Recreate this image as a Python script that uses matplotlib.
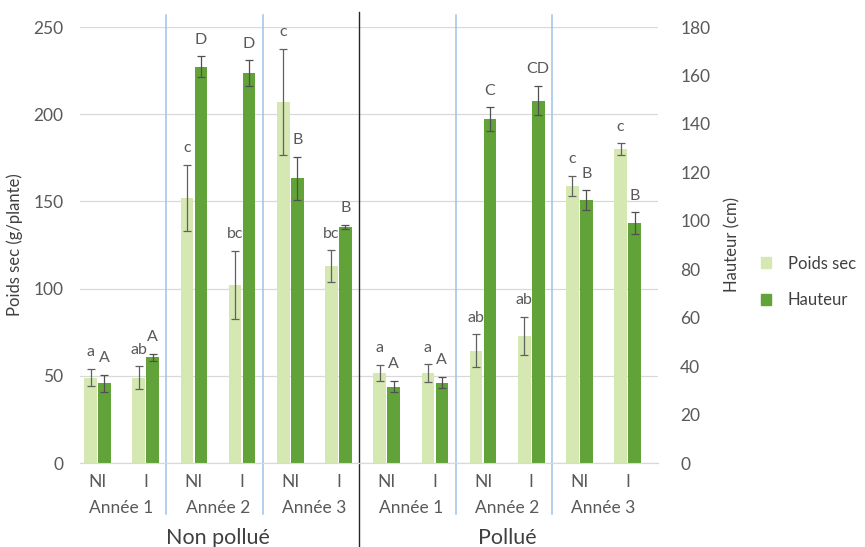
import numpy as np
import matplotlib
matplotlib.use('Agg')
import matplotlib.pyplot as plt
from matplotlib.patches import Patch
import matplotlib.transforms as mtransforms

plt.rcParams['font.family'] = ['Lato', 'DejaVu Sans']

# data
conditions = ['NI', 'I'] * 6
years = ['Année 1', 'Année 2', 'Année 3'] * 2
pollution = ['Non pollué', 'Pollué']

poids = [49, 49, 152, 102, 207, 113, 51.5, 51.5, 64.5, 73, 159, 180]
poids_err = [5, 6.5, 19, 19.5, 30.5, 9, 4.6, 5, 9.2, 11, 5.7, 3.3]
poids_lbl = ['a', 'ab', 'c', 'bc', 'c', 'bc', 'a', 'a', 'ab', 'ab', 'c', 'c']

hauteur = [33, 43.6, 163.6, 161, 117.5, 97.5, 31.5, 33.2, 142, 149.6, 108.6, 99]
hauteur_err = [3.5, 1.5, 4.3, 5.3, 8.8, 0.8, 2.3, 2.3, 4.8, 6, 4, 4.5]
hauteur_lbl = ['A', 'A', 'D', 'D', 'B', 'B', 'A', 'A', 'C', 'CD', 'B', 'B']

c_light = '#d5e8b1'
c_dark = '#61a338'
txt = '#595959'

fig = plt.figure(figsize=(8.65, 5.47), dpi=100)
ax = fig.add_axes([80 / 865, 84 / 547, 578 / 865, 436 / 547])
ax2 = ax.twinx()

x = np.arange(len(poids))
w = 0.26
off = 0.145

ax.bar(x - off, poids, w, color=c_light, zorder=2,
       yerr=poids_err, error_kw=dict(ecolor='#606060', elinewidth=0.9, capsize=3, capthick=0.9))
ax2.bar(x + off, hauteur, w, color=c_dark, zorder=2,
        yerr=hauteur_err, error_kw=dict(ecolor='#505050', elinewidth=0.9, capsize=3, capthick=0.9))

for i in range(len(x)):
    ax.annotate(poids_lbl[i], (x[i] - off, poids[i] + poids_err[i]), xytext=(0, 12),
                textcoords='offset points', ha='center', va='center', fontsize=11.5, color=txt)
    ax2.annotate(hauteur_lbl[i], (x[i] + off, hauteur[i] + hauteur_err[i]), xytext=(0, 12),
                 textcoords='offset points', ha='center', va='center', fontsize=11.5, color=txt)

ax.set_xlim(-0.363, 11.63)
ax.set_ylim(0, 250)
ax2.set_ylim(0, 180)
ax.set_yticks(np.arange(0, 251, 50))
ax2.set_yticks(np.arange(0, 181, 20))

ax.set_xticks(x)
ax.set_xticklabels(conditions)
ax.tick_params(axis='x', length=0, pad=8, labelsize=12.5, labelcolor=txt)
ax.tick_params(axis='y', length=0, pad=12, labelsize=12.5, labelcolor=txt)
ax2.tick_params(axis='y', length=0, pad=16, labelsize=12.5, labelcolor=txt)

ax.grid(axis='y', color='#d9d9d9', lw=0.9, zorder=0)
ax.set_axisbelow(True)
for a in (ax, ax2):
    for s in ('top', 'left', 'right'):
        a.spines[s].set_visible(False)
    a.spines['bottom'].set_color('#d9d9d9')

ax.set_ylabel('Poids sec (g/plante)', fontsize=12, color='#404040', labelpad=7)
ax2.set_ylabel('Hauteur (cm)', fontsize=12, color='#404040', labelpad=10)

trans = mtransforms.blended_transform_factory(ax.transData, ax.transAxes)
for k in range(6):
    ax.text(2 * k + 0.5, -0.103, years[k], transform=trans, ha='center', va='center',
            fontsize=12.5, color=txt)
for k in range(2):
    ax.text(6 * k + 2.5, -0.172, pollution[k], transform=trans, ha='center', va='center',
            fontsize=15.5, color='#404040')

# separators between years and conditions
for k in [1, 2, 4, 5]:
    xs = 2 * k - 0.57
    ax.plot([xs, xs], [1.028, -0.116], transform=trans, color='#9dc3e6', lw=1.1, clip_on=False)
ax.plot([5.43, 5.43], [1.035, -0.2], transform=trans, color='#262626', lw=1.0, clip_on=False)

handles = [Patch(color=c_light, label='Poids sec'), Patch(color=c_dark, label='Hauteur')]
fig.legend(handles=handles, loc='center left', bbox_to_anchor=(746 / 865, 1 - 282 / 547),
           frameon=False, fontsize=12, handlelength=0.6, handleheight=0.6,
           labelspacing=1.25, handletextpad=1.0, labelcolor='#404040')

fig.savefig('out.png', dpi=100)
